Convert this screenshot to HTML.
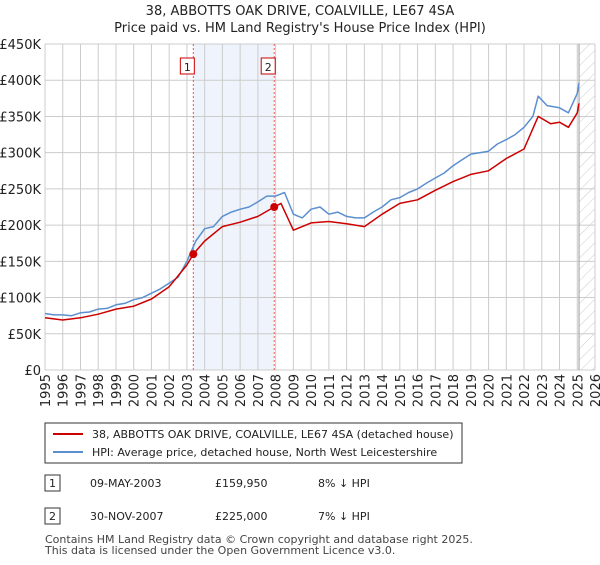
<!DOCTYPE html>
<html><head><meta charset="utf-8"><style>
body{margin:0;background:#fff;font-family:"Liberation Sans","DejaVu Sans",sans-serif;}
svg text{font-family:"DejaVu Sans","Liberation Sans",sans-serif;}
</style></head><body>
<svg id="c" width="600" height="560" xmlns="http://www.w3.org/2000/svg">
<defs><pattern id="hatch" width="8" height="8" patternUnits="userSpaceOnUse" patternTransform="rotate(45)"><line x1="0" y1="0" x2="0" y2="8" stroke="#ccc" stroke-width="1"/></pattern></defs>
<text x="300" y="15" text-anchor="middle" font-size="13" fill="#222">38, ABBOTTS OAK DRIVE, COALVILLE, LE67 4SA</text>
<text x="300" y="32" text-anchor="middle" font-size="13" fill="#222">Price paid vs. HM Land Registry's House Price Index (HPI)</text>
<g id="grid"></g><g id="marks"></g><g id="axes"></g>
<g>
<rect x="45" y="423" width="417" height="40" fill="#fff" stroke="#333" stroke-width="1"/>
<line x1="53" y1="434" x2="83" y2="434" stroke="#cc0000" stroke-width="2"/>
<text x="92" y="438" font-size="11" fill="#222">38, ABBOTTS OAK DRIVE, COALVILLE, LE67 4SA (detached house)</text>
<line x1="53" y1="452" x2="83" y2="452" stroke="#5b8fd0" stroke-width="2"/>
<text x="92" y="456" font-size="11" fill="#222">HPI: Average price, detached house, North West Leicestershire</text>
</g>
<g font-size="11" fill="#222">
<rect x="45" y="475" width="15" height="16" fill="#fff" stroke="#333"/><text x="52.5" y="487" text-anchor="middle">1</text>
<text x="90" y="487">09-MAY-2003</text><text x="215" y="487">£159,950</text><text x="318" y="487">8% ↓ HPI</text>
<rect x="45" y="508" width="15" height="16" fill="#fff" stroke="#333"/><text x="52.5" y="520" text-anchor="middle">2</text>
<text x="90" y="520">30-NOV-2007</text><text x="215" y="520">£225,000</text><text x="318" y="520">7% ↓ HPI</text>
</g>
<text x="45" y="543" font-size="11" fill="#444">Contains HM Land Registry data © Crown copyright and database right 2025.</text>
<text x="45" y="554" font-size="11" fill="#444">This data is licensed under the Open Government Licence v3.0.</text>
</svg>
<script>
const yTicks=[0,50,100,150,200,250,300,350,400,450];
const yTickLabels=["£0","£50K","£100K","£150K","£200K","£250K","£300K","£350K","£400K","£450K"];
const xYears=[1995,1996,1997,1998,1999,2000,2001,2002,2003,2004,2005,2006,2007,2008,2009,2010,2011,2012,2013,2014,2015,2016,2017,2018,2019,2020,2021,2022,2023,2024,2025,2026];
const hpiT=[1995,1995.5,1996,1996.5,1997,1997.5,1998,1998.5,1999,1999.5,2000,2000.5,2001,2001.5,2002,2002.5,2003,2003.5,2004,2004.5,2005,2005.5,2006,2006.5,2007,2007.5,2008,2008.5,2009,2009.5,2010,2010.5,2011,2011.5,2012,2012.5,2013,2013.5,2014,2014.5,2015,2015.5,2016,2016.5,2017,2017.5,2018,2018.5,2019,2019.5,2020,2020.5,2021,2021.5,2022,2022.5,2022.8,2023.3,2024,2024.5,2025,2025.1];
const hpiV=[78,76,76,75,79,80,84,85,90,92,97,100,106,112,120,128,150,178,195,198,212,218,222,225,232,240,240,245,215,210,222,225,215,218,212,210,210,218,225,235,238,245,250,258,265,272,282,290,298,300,302,312,318,325,335,350,378,365,362,355,382,396];
const ppT=[1995,1996,1997,1998,1999,2000,2001,2002,2003,2003.36,2004,2005,2006,2007,2007.92,2008.3,2009,2010,2011,2012,2013,2014,2015,2016,2017,2018,2019,2020,2021,2022,2022.8,2023.5,2024,2024.5,2025,2025.1];
const ppV=[72,69,72,77,84,88,98,115,145,160,178,198,204,212,225,230,193,203,205,202,198,215,230,235,248,260,270,275,292,305,350,340,342,335,355,368];
const saleT=[2003.36,2007.92];
const saleV=[159.95,225];
const saleLabels=["1","2"];
const L=45,R=595,T=44,B=370;
const X=t=>L+(t-1995)*(R-L)/31;
const Y=v=>B-v*(B-T)/450;
const NS="http://www.w3.org/2000/svg";
function mk(tag,attrs,parent){const e=document.createElementNS(NS,tag);for(const k in attrs)e.setAttribute(k,attrs[k]);parent.appendChild(e);return e;}
const grid=document.getElementById('grid'),marks=document.getElementById('marks'),axes=document.getElementById('axes');
let sh=mk('rect',{x:X(saleT[0]),y:T,width:X(saleT[1])-X(saleT[0]),height:B-T,fill:'#eef3fc'},grid);


let ht=mk('rect',{x:X(2025.1),y:T,width:R-X(2025.1),height:B-T,fill:'url(#hatch)'},grid);


yTicks.forEach((v,i)=>{
 const l=mk('line',{x1:L,x2:R,y1:Y(v),y2:Y(v),stroke:'#ccc','stroke-width':1},grid);
 
 
 const t=mk('text',{x:L-4,y:Y(v)+5,'text-anchor':'end','font-size':13,fill:'#222'},axes);
 t.textContent=yTickLabels[i];
 
 
});
xYears.forEach(y=>{
 const l=mk('line',{x1:X(y),x2:X(y),y1:T,y2:B,stroke:'#ccc','stroke-width':1},grid);
 
 
 const t=mk('text',{transform:`translate(${X(y)+5},${B+4}) rotate(-90)`,'text-anchor':'end','font-size':13,fill:'#222'},axes);
 t.textContent=y;
 
 
});
let gl=mk('line',{x1:X(2025.1),x2:X(2025.1),y1:T,y2:B,stroke:'#999','stroke-width':1},grid);


saleT.forEach((t,i)=>{
 const l=mk('line',{x1:X(t),x2:X(t),y1:T,y2:B,stroke:'#e55','stroke-width':1,'stroke-dasharray':'2,2'},marks);
 
 
});
function path(ts,vs,color,name){
 const d=ts.map((t,i)=>(i?'L':'M')+X(t).toFixed(1)+','+Y(vs[i]).toFixed(1)).join('');
 const p=mk('path',{d:d,fill:'none',stroke:color,'stroke-width':1.5,'stroke-linejoin':'round'},marks);
 
 
}
path(hpiT,hpiV,'#5b8fd0','hpi-line');
path(ppT,ppV,'#cc0000','price-paid-line');
saleT.forEach((t,i)=>{
 const c=mk('circle',{cx:X(t),cy:Y(saleV[i]),r:4,fill:'#cc0000'},marks);
 
 
 const b=mk('rect',{x:X(t)-13,y:58,width:14,height:16,fill:'#fff',stroke:'#cc0000'},marks);
 
 
 const tx=mk('text',{x:X(t)-6,y:71,'text-anchor':'middle','font-size':11,fill:'#222'},marks);
 tx.textContent=saleLabels[i];
 
 
});
</script>
</body></html>
